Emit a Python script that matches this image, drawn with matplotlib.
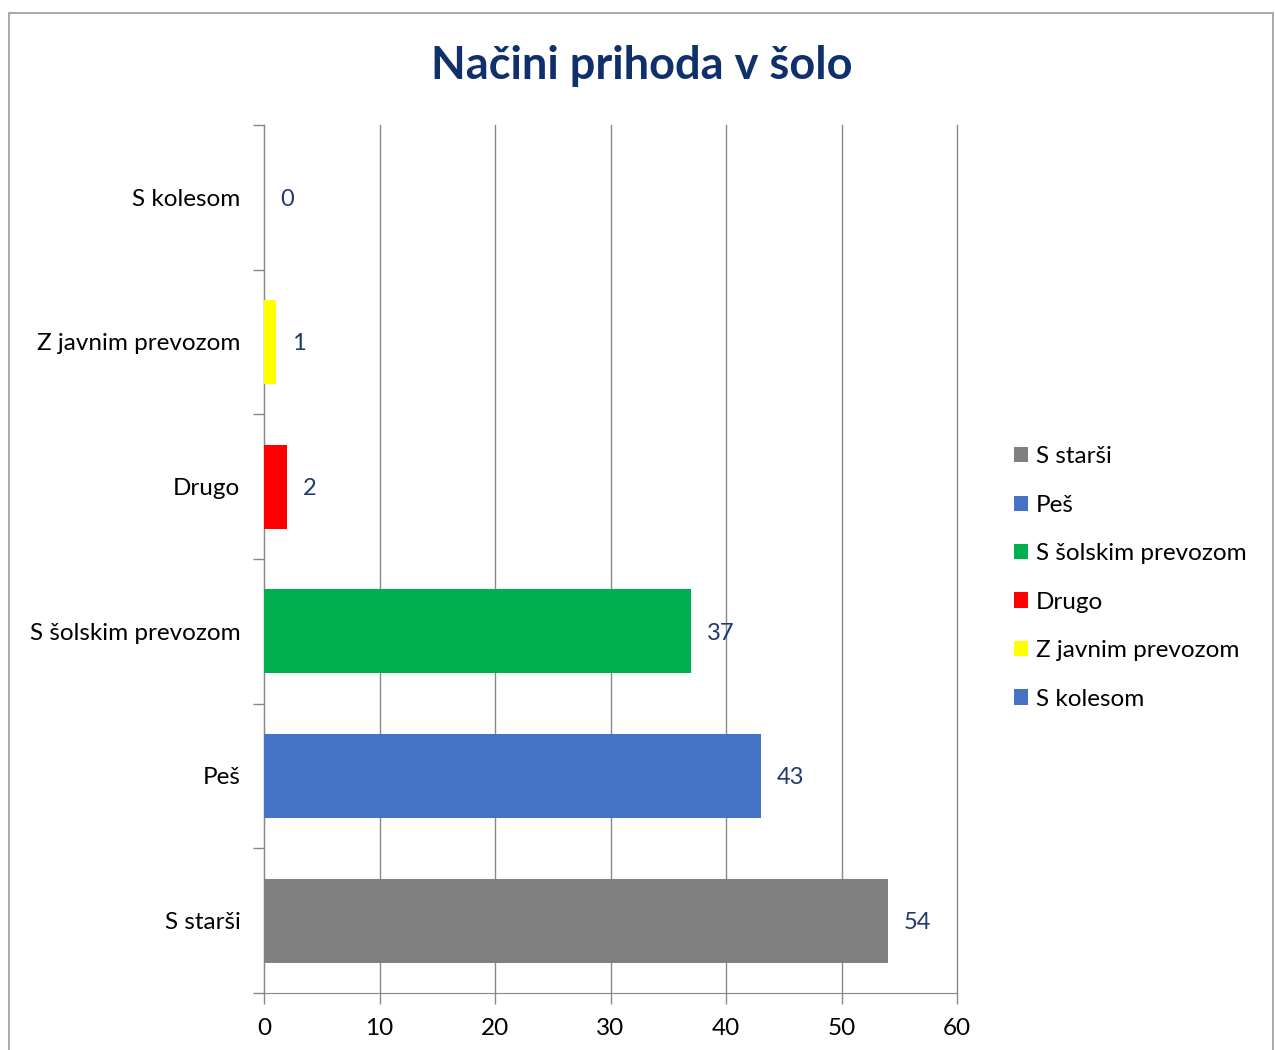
import matplotlib
matplotlib.use("Agg")
import matplotlib.pyplot as plt
from matplotlib.patches import Rectangle, Patch

categories = ["S starši", "Peš", "S šolskim prevozom", "Drugo", "Z javnim prevozom", "S kolesom"]
values = [54, 43, 37, 2, 1, 0]
colors = ["#808080", "#4472C4", "#00B050", "#FF0000", "#FFFF00", "#4472C4"]
xticks = [0, 10, 20, 30, 40, 50, 60]
title = "Načini prihoda v šolo"

plt.rcParams['font.family'] = ['Lato', 'DejaVu Sans']

fig = plt.figure(figsize=(12.75, 10.5), dpi=100)
W, H = 1275, 1050
ax = fig.add_axes([264 / W, 1 - 993 / H, (957 - 264) / W, (993 - 125) / H])

ypos = list(range(len(categories)))
ax.barh(ypos, values, height=0.58, color=colors, zorder=3)
for y, v in zip(ypos, values):
    ax.annotate(str(v), (v, y), xytext=(16, -2), textcoords="offset pixels",
                va="center", ha="left", fontsize=17, color="#1F3A6E")

ax.set_xlim(0, 60)
ax.set_ylim(-0.5, len(categories) - 0.5)
ax.set_xticks(xticks)
ax.set_xticklabels([str(t) for t in xticks], fontsize=17.5)
ax.set_yticks(ypos)
ax.set_yticklabels(categories, fontsize=17.5)
ax.tick_params(axis="y", length=0, pad=17)
ax.set_yticks([i - 0.5 for i in range(len(categories) + 1)], minor=True)
ax.tick_params(axis="y", which="minor", length=8, color="#888888", width=1)
ax.tick_params(axis="x", length=8, color="#888888", width=1, pad=10)
ax.grid(axis="x", color="#888888", linewidth=1, zorder=0)
for gl in ax.get_xgridlines():
    gl.set_clip_on(False)
for s in ["top", "right"]:
    ax.spines[s].set_visible(False)
ax.spines["left"].set_color("#888888")
ax.spines["bottom"].set_color("#888888")

fig.text(642 / W, 1 - 66 / H, title, ha="center", va="center", fontsize=32.5,
         fontweight="bold", color="#10306B")

handles = [Patch(facecolor=c, edgecolor="none") for c in colors]
fig.legend(handles, categories, loc="center left", bbox_to_anchor=(992 / W, 1 - 578 / H),
           frameon=False, fontsize=17.5, handlelength=0.6, handleheight=0.6,
           handletextpad=0.3, labelspacing=1.13)

fig.add_artist(Rectangle((9 / W, -0.1), (1273 - 9) / W, 1.1 - 13 / H,
                         transform=fig.transFigure, fill=False, edgecolor="#999999",
                         linewidth=1.2))

fig.savefig("out.png", dpi=100)
